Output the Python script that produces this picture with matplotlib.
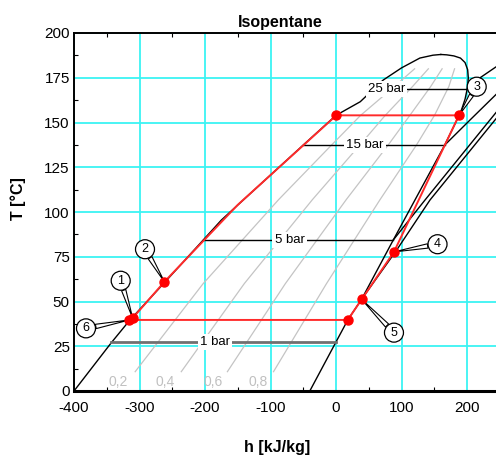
import matplotlib
matplotlib.use("Agg")
import matplotlib.pyplot as plt
from matplotlib.ticker import MultipleLocator

plt.rcParams['font.family'] = ['Liberation Sans', 'DejaVu Sans']
plt.rcParams['axes.unicode_minus'] = False

# saturated liquid line, bottom -> critical region  (h kJ/kg, T degC)
liq_h = [-400, -343, -315, -262, -175, -50, 0, 37, 72, 100, 128, 148, 160]
liq_T = [0, 27, 39.5, 60.5, 95.5, 137.4, 154, 161.6, 173.7, 180.5, 186, 187.6, 188]
# saturated vapour line, critical region -> bottom
vap_h = [160, 169, 180, 190, 197, 201, 202, 201, 197, 192, 188, 166, 87.5, 39, 18, 0, -40]
vap_T = [188, 187.8, 187.2, 186, 183.5, 179.5, 175, 170, 163, 157.5, 154, 137.4, 84.4, 51.2, 39.7, 27.4, 0]

# lines of constant vapour quality
qual_T = [10.8, 60, 107, 137.4, 154, 170, 180]
q02_h = [-306.6, -202.8, -87.4, -6.8, 37.6, 88.8, 120]
q04_h = [-236.2, -140, -35.8, 36.4, 75.2, 116.6, 141]
q06_h = [-165.8, -77.3, 15.8, 79.6, 112.8, 144.4, 162]
q08_h = [-95.4, -14.5, 67.4, 122.8, 150.4, 172.2, 181]
qual_labels = ['0,2', '0,4', '0,6', '0,8']
qual_label_h = [-333, -261, -188, -119]

# isobars inside the dome
iso_names = ['1 bar', '5 bar', '15 bar', '25 bar']
iso_T = [27.4, 84.4, 137.4, 168.5]
iso_h_liq = [-343, -203, -50, 57]
iso_h_vap = [0, 87.5, 166, 200]
iso_label_h = [-185, -71, 44, 77]

# isobars in the superheated region
sh1_h = [39, 92.7, 143.5, 242.7, 262]
sh1_T = [51.2, 78.8, 106.7, 151.4, 160]
sh5_h = [87.5, 135.9, 235, 262]
sh5_T = [84.4, 106.7, 151.4, 163.5]
sh15_h = [166, 204.6, 262]
sh15_T = [137.4, 151.4, 172]
sh25_h = [188, 205, 220, 244, 262]
sh25_T = [154, 165, 175, 181, 185]

# ORC cycle path
cyc_h = [-315.4, -310.5, -262, -150, 0.5, 187.8, 88.5, 39.2, 17.9, -315.4]
cyc_T = [39.7, 40.7, 61, 104, 154, 154, 77.7, 51.2, 39.7, 39.7]
dot_h = [-315.4, -310.5, -262, 0.5, 187.8, 88.5, 39.2, 17.9]
dot_T = [39.7, 40.7, 61, 154, 154, 77.7, 51.2, 39.7]

# numbered state labels
state_names = ['1', '2', '3', '4', '5', '6']
state_h = [-310.5, -262, 187.8, 88.5, 39.2, -315.4]
state_T = [40.7, 61, 154, 77.7, 51.2, 39.7]
bubble_h = [-328.7, -291.6, 214.8, 155, 88.5, -381.7]
bubble_T = [61.6, 79.2, 170, 82, 32.6, 35]

fig = plt.figure(figsize=(4.96, 4.55), dpi=100)
ax = fig.add_axes([74 / 496, 64 / 455, 425.75 / 496, 358 / 455])
ax.set_xlim(-400, 250)
ax.set_ylim(0, 200)

ax.xaxis.set_major_locator(MultipleLocator(100))
ax.xaxis.set_minor_locator(MultipleLocator(50))
ax.yaxis.set_major_locator(MultipleLocator(25))
ax.yaxis.set_minor_locator(MultipleLocator(12.5))
ax.grid(which='major', color='#3cf3f3', lw=1.3, zorder=0)
ax.set_axisbelow(True)
ax.tick_params(which='both', direction='in', top=True, labelsize=11)
ax.tick_params(which='major', length=0)
ax.tick_params(which='minor', length=3, width=0.8)
ax.tick_params(axis='x', pad=7)
ax.tick_params(axis='y', pad=3)
ax.set_xticks(range(-400, 201, 100))
for s in ('left', 'top'):
    ax.spines[s].set_linewidth(1.4)
ax.spines['bottom'].set_linewidth(2.2)
ax.spines['right'].set_visible(False)

# quality lines
for qh, ql, lh in zip([q02_h, q04_h, q06_h, q08_h], qual_labels, qual_label_h):
    ax.plot(qh, qual_T, color='#c4c4c4', lw=0.9, zorder=1)
    ax.text(lh, 5, ql, color='#c0c0c0', fontsize=10, ha='center', va='center', zorder=1)

# saturation dome
ax.plot(liq_h, liq_T, color='black', lw=1.0, zorder=2)
ax.plot(vap_h, vap_T, color='black', lw=1.0, zorder=2)

# superheated isobars
for hh, tt in [(sh1_h, sh1_T), (sh5_h, sh5_T), (sh15_h, sh15_T), (sh25_h, sh25_T)]:
    ax.plot(hh, tt, color='black', lw=1.0, zorder=2)

# isobar label lines
for name, t, h0, h1, lh in zip(iso_names, iso_T, iso_h_liq, iso_h_vap, iso_label_h):
    if name == '1 bar':
        ax.plot([h0, h1], [t, t], color='#707070', lw=2.0, zorder=2)
    else:
        ax.plot([h0, h1], [t, t], color='black', lw=1.0, zorder=2)
    ax.text(lh, t, name, fontsize=9.5, ha='center', va='center', zorder=4,
            bbox=dict(fc='white', ec='none', pad=1.5))

# cycle
ax.plot(cyc_h, cyc_T, color='#ff2a2a', lw=1.4, zorder=3)
ax.plot(dot_h, dot_T, 'o', color='red', ms=6.5, mec='red', zorder=7)

for name, ph, pT, bh, bT in zip(state_names, state_h, state_T, bubble_h, bubble_T):
    ax.annotate(name, xy=(ph, pT), xytext=(bh, bT), ha='center', va='center',
                fontsize=9, zorder=6,
                bbox=dict(boxstyle='circle,pad=0.28', fc='white', ec='black', lw=0.9),
                arrowprops=dict(arrowstyle='wedge,tail_width=0.35', fc='white',
                                ec='black', lw=0.8, shrinkA=0, shrinkB=0))

ax.set_title('Isopentane', fontsize=11.5, fontweight='bold', x=0.484, pad=4)
fig.text(277 / 496, 1 - 447.7 / 455, 'h [kJ/kg]', ha='center', va='center',
         fontsize=11.5, fontweight='bold')
fig.text(18 / 496, 1 - 199 / 455, 'T [°C]', rotation=90, ha='center', va='center',
         fontsize=11.5, fontweight='bold')

fig.savefig('out.png', dpi=100)
